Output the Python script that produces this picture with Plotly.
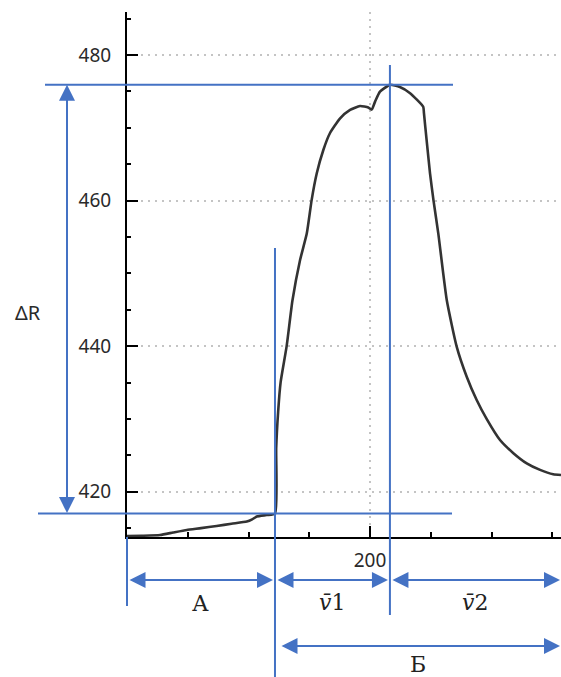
import plotly.graph_objects as go

# ---- data ----
time_x = [100, 106, 113.6, 119, 124.6, 130.5, 136.9, 143, 149.3, 151.5, 153.4, 157.5, 160.9,
          161.4, 162.2, 163.2, 165.7, 168.1, 171.2, 174.0, 176.0, 178.1, 180.8, 183.5,
          187.7, 191.8, 195.9, 199.3, 200.7, 202.1, 204.1, 208.2, 212.3,
          216.5, 221.9, 222.2, 223.3, 224.7, 226.1, 228.1, 231.6, 235.7, 239.8, 243.9,
          248.0, 253.5, 259.0, 264.5, 270.0, 275.4, 278.6]
resist_y = [413.9, 413.95, 414.05, 414.4, 414.75, 415.0, 415.3, 415.6, 415.9, 416.2, 416.6, 416.8, 417.0,
            426.0, 431.0, 435.0, 440.0, 446.3, 451.8, 455.5, 460.1, 463.75, 466.95, 469.25,
            471.3, 472.45, 473.0, 472.8, 472.5, 473.6, 474.96, 475.9, 475.6,
            474.75, 472.9, 472.0, 468.3, 463.75, 460.1, 455.5, 446.3, 439.9, 435.8, 432.6,
            430.0, 427.1, 425.3, 423.9, 423.0, 422.4, 422.3]
jump_index = 12            # last point of the baseline, before the jump

x_range = [100, 278.6]
y_range = [413.78, 485.91]
x_tick_vals = [200]
x_minor_vals = [125, 150, 175, 225, 250, 275]
y_tick_vals = [420, 440, 460, 480]
y_label = "ΔR"
interval_labels = ["А", "<i>v̄</i>1", "<i>v̄</i>2", "Б"]

# ---- layout geometry ----
W, H = 561, 677
L, R, T, B = 127, 0, 12, 140
PW, PH = W - L - R, H - T - B
BLUE = "#4472C4"

def x_px(x):
    return L + (x - x_range[0]) / (x_range[1] - x_range[0]) * PW

def y_px(y):
    return T + (1 - (y - y_range[0]) / (y_range[1] - y_range[0])) * PH

def px2p(px):
    return (px - L) / PW

def py2p(py):
    return (H - B - py) / PH

peak_i = max(range(len(resist_y)), key=lambda i: resist_y[i])
peak_x, peak_y = time_x[peak_i], resist_y[peak_i]
base_x, base_y = time_x[jump_index], resist_y[jump_index]

fig = go.Figure()
fig.add_trace(go.Scatter(x=time_x, y=resist_y, mode="lines",
                         line=dict(color="#333333", width=2.6, shape="spline", smoothing=0.5),
                         hoverinfo="skip"))

shapes = []
def seg(x0, y0, x1, y1):
    shapes.append(dict(type="line", xref="paper", yref="paper",
                       x0=px2p(x0), y0=py2p(y0), x1=px2p(x1), y1=py2p(y1),
                       line=dict(color=BLUE, width=2), layer="above"))

py_peak = y_px(peak_y)
py_base = y_px(base_y)
px_peak = x_px(peak_x)
px_base = x_px(base_x)
px_start = x_px(x_range[0])
px_end = x_px(x_range[1])

seg(45, py_peak, 453, py_peak)
seg(38, py_base, 452, py_base)
seg(px_base, 248, px_base, H)
seg(px_peak, 65, px_peak, 615)
seg(px_start, H - B, px_start, 606)

annotations = []
def darrow(x0, y0, x1, y1):
    # double-headed arrow, head at (x1,y1), tail at (x0,y0), pixel coords
    annotations.append(dict(xref="paper", yref="paper", x=px2p(x1), y=py2p(y1),
                            ax=x0 - x1, ay=y0 - y1, text="", showarrow=True,
                            arrowside="end+start", arrowhead=2, startarrowhead=2,
                            arrowsize=1.6, startarrowsize=1.6, arrowwidth=2,
                            arrowcolor=BLUE, standoff=0, startstandoff=0,
                            borderpad=0))

darrow(67, py_base, 67, py_peak)
ya, yb = 580, 646
darrow(px_start + 2, ya, px_base - 2, ya)
darrow(px_base + 2, ya, px_peak - 2, ya)
darrow(px_peak + 2, ya, px_end - 1, ya)
darrow(px_base + 6, yb, px_end - 1, yb)

def label(px, py, text, font):
    annotations.append(dict(xref="paper", yref="paper", x=px2p(px), y=py2p(py),
                            text=text, showarrow=False, xanchor="center",
                            yanchor="middle", font=font))

sans = dict(family="Noto Sans", size=20, color="#2a2a2a")
serif = dict(family="DejaVu Serif", size=22, color="#222222")
label(28, 312, y_label, sans)
label((px_start + px_base) / 2, 603, interval_labels[0], serif)
label((px_base + px_peak) / 2, 602, interval_labels[1], serif)
label((px_peak + px_end) / 2, 602, interval_labels[2], serif)
label((px_base + px_end) / 2, 664, interval_labels[3], serif)

tickfont = dict(family="Noto Sans", size=19, color="#2a2a2a")
fig.update_layout(
    width=W, height=H, margin=dict(l=L, r=R, t=T, b=B, autoexpand=False),
    paper_bgcolor="white", plot_bgcolor="white", showlegend=False,
    shapes=shapes, annotations=annotations,
    xaxis=dict(range=x_range, tickmode="array", tickvals=x_tick_vals,
               ticktext=[str(v) for v in x_tick_vals],
               showline=True, linecolor="black", linewidth=2,
               ticks="inside", ticklen=11, tickwidth=2, tickcolor="black",
               minor=dict(tickmode="array", tickvals=x_minor_vals, ticks="inside",
                          ticklen=5, tickwidth=1.5, tickcolor="black", showgrid=False),
               showgrid=True, gridcolor="#c4c4c4", griddash="2px,5px", gridwidth=1.5,
               zeroline=False, tickfont=tickfont, ticklabelstandoff=5),
    yaxis=dict(range=y_range, tickmode="array", tickvals=y_tick_vals,
               showline=True, linecolor="black", linewidth=2,
               ticks="inside", ticklen=11, tickwidth=2, tickcolor="black",
               minor=dict(dtick=5, tick0=0, ticks="inside", ticklen=4,
                          tickwidth=1.5, tickcolor="black", showgrid=False),
               showgrid=True, gridcolor="#c4c4c4", griddash="2px,5px", gridwidth=1.5,
               zeroline=False, tickfont=tickfont, ticklabelstandoff=10),
)

fig.write_html("out.html")
